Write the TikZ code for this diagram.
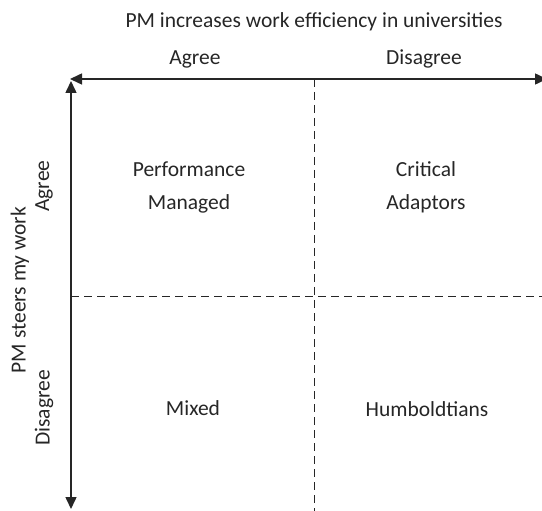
\documentclass[tikz,border=0pt]{standalone}
\usepackage{fontspec}
\setmainfont{Carlito}
\usetikzlibrary{arrows.meta}
\begin{document}
\begin{tikzpicture}[x=1pt,y=-1pt,
  lbl/.style={font=\fontsize{21.5}{33}\selectfont, text=black!85, inner sep=0pt, align=center},
  axis/.style={line width=1.5pt, black!85, {Triangle[length=12pt,width=11pt]}-{Triangle[length=12pt,width=11pt]}},
  divider/.style={line width=1pt, black!85, dash pattern=on 8pt off 5pt}]
\useasboundingbox (0,0) rectangle (542,511);
\coordinate (tl) at (70,79);
\coordinate (tr) at (547,79);
\coordinate (bl) at (71,509);
\coordinate (vt) at (314,79);
\coordinate (vb) at (314,511);
\coordinate (hl) at (71,296);
\coordinate (hr) at (542,296);
\draw[divider] (vt) -- (vb);
\draw[divider] (hl) -- (hr);
\draw[axis] (tl) -- (tr);
\draw[line width=1.5pt, black!85, -{Triangle[length=12pt,width=11pt]}] (71,90) -- (bl);
\draw[line width=1.5pt, black!85, -{Triangle[length=12pt,width=11pt]}] (71,200) -- (71,81);
\node[lbl] (title) at (314,22) {PM increases work efficiency in universities};
\node[lbl] (xa) at (195,59) {Agree};
\node[lbl] (xd) at (424,59) {Disagree};
\node[lbl, rotate=90] (ytitle) at (20,290) {PM steers my work};
\node[lbl, rotate=90] (ya) at (44,186) {Agree};
\node[lbl, rotate=90] (yd) at (44,408) {Disagree};
\node[lbl] (pm) at (189,187) {Performance\\Managed};
\node[lbl] (ca) at (426,187) {Critical\\Adaptors};
\node[lbl] (mx) at (193,408) {Mixed};
\node[lbl] (hu) at (427,409) {Humboldtians};
\end{tikzpicture}
\end{document}
